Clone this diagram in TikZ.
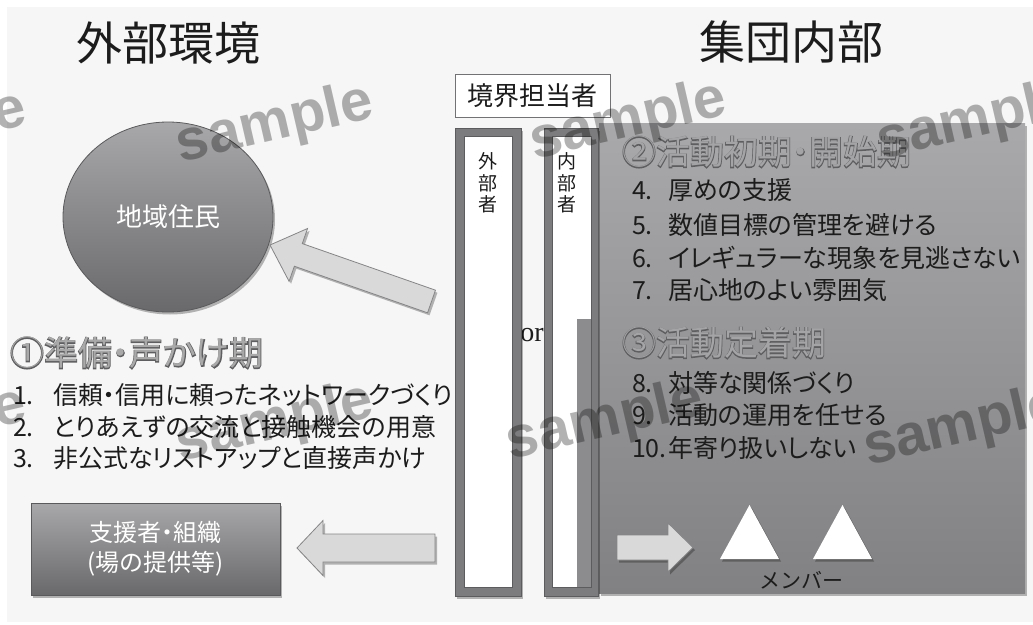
\documentclass[tikz,border=0pt]{standalone}
\usepackage{fontspec}
\setmainfont{Noto Sans CJK JP}
\newfontfamily\jp{Noto Sans CJK JP}
\newfontfamily\jpp{Noto Sans CJK JP}[RawFeature=+palt]
\newfontfamily\jpout{Noto Sans CJK JP}[RawFeature=+palt, FakeBold=4]
\newfontfamily\serifL{Liberation Serif}
\newfontfamily\wmfont{Liberation Sans}
\usetikzlibrary{shapes.geometric,shadows,calc}

\definecolor{bgpanel}{HTML}{F6F6F6}
\definecolor{arrowfill}{HTML}{D9D9DA}
\definecolor{arrowline}{HTML}{858587}
\definecolor{grptop}{HTML}{A9A9AB}
\definecolor{grpbot}{HTML}{818183}
\definecolor{darktop}{HTML}{A8A8AA}
\definecolor{darkbot}{HTML}{69696B}
\definecolor{darkline}{HTML}{5A5A5C}
\definecolor{barfill}{HTML}{7C7C7E}
\definecolor{barline}{HTML}{5C5C5E}
\definecolor{barshade}{HTML}{8C8C8E}
\definecolor{headedge}{HTML}{5E5E60}
\definecolor{headfillA}{HTML}{A9A9A9}
\definecolor{headfillB}{HTML}{A4A4A6}
\definecolor{textdark}{HTML}{1C1C1C}
\definecolor{boxline}{HTML}{727274}

\newcommand{\blockarr}[5]{%
  \coordinate (hb) at ($(#2)!#5!(#1)$);
  \coordinate (h1) at ($(hb)!#4!90:(#2)$);
  \coordinate (h2) at ($(hb)!#4!-90:(#2)$);
  \coordinate (s1) at ($(hb)!#3!90:(#2)$);
  \coordinate (s2) at ($(hb)!#3!-90:(#2)$);
  \coordinate (t1) at ($(#1)!#3!90:(#2)$);
  \coordinate (t2) at ($(#1)!#3!-90:(#2)$);
  \draw[blockarrow] (#2) -- (h1) -- (s1) -- (t1) -- (t2) -- (s2) -- (h2) -- cycle;
}

\tikzset{
  plain/.style={inner sep=0pt, outer sep=0pt},
  softshadow/.style={drop shadow={shadow xshift=2pt, shadow yshift=-2.5pt, opacity=0.28, fill=black}},
  title/.style={plain, font=\jp\fontsize{46pt}{50pt}\selectfont, text=textdark},
  itemL/.style={plain, anchor=west, font=\jpp\fontsize{25pt}{28pt}\selectfont, text=textdark},
  headout/.style={plain, anchor=west, font=\jpout\fontsize{34pt}{36pt}\selectfont, text=headedge},
  headin/.style={plain, anchor=west, font=\jpp\fontsize{34pt}{36pt}\selectfont},
  blockarrow/.style={fill=arrowfill, draw=arrowline, line width=0.8pt, line join=miter, softshadow},
  barouter/.style={plain, anchor=north west, draw=barline, line width=0.8pt, fill=barfill, minimum width=#1, softshadow},
  barinner/.style={plain, anchor=north west, draw=barline, line width=0.8pt, fill=white, minimum width=#1},
  vtext/.style={plain, anchor=north, align=center, font=\jp\fontsize{19pt}{21.5pt}\selectfont, text=textdark},
  wm/.style={plain, font=\wmfont\bfseries\fontsize{58pt}{60pt}\selectfont, text=black, text opacity=0.3},
}

\begin{document}
\begin{tikzpicture}[x=1pt,y=-1pt]
\useasboundingbox (0,0) rectangle (1033,624);
\fill[white] (0,0) rectangle (1033,624);
\fill[bgpanel] (7,7) rectangle (1033,622);

% titles
\node[title] (ttl1) at (168,43) {外部環境};
\node[title] (ttl2) at (791,42) {集団内部};

% group panel
\node[plain, anchor=north west, top color=grptop, bottom color=grpbot, minimum width=426pt, minimum height=470pt, softshadow] (grp) at (599,123) {};

% or
\node[plain, font=\serifL\fontsize{28pt}{30pt}\selectfont, text=textdark] (ortxt) at (532,335) {or};

% bars
\node[barouter=66pt, minimum height=468pt] (bar1) at (455,128) {};
\node[barinner=48pt, minimum height=451pt] (bar1in) at (464,136) {};
\node[barouter=54pt, minimum height=468pt] (bar2) at (544,128) {};
\node[barinner=39pt, minimum height=451pt] (bar2in) at (552,136) {};
\node[plain, anchor=north west, fill=barshade, minimum width=14pt, minimum height=268pt] (bar2sh) at (577,318.5) {};
\node[vtext] (v1) at (488,153) {外\\部\\者};
\node[vtext] (v2) at (567,153) {内\\部\\者};

% boundary box
\node[plain, anchor=north west, draw=boxline, line width=0.9pt, fill=white, minimum width=155pt, minimum height=43pt] (bnd) at (455,74) {};
\node[plain, font=\jp\fontsize{26pt}{28pt}\selectfont, text=textdark] (bndt) at (bnd.center) {境界担当者};

% residents ellipse
\node[ellipse, draw=darkline, line width=0.8pt, top color=darktop, bottom color=darkbot, minimum width=210pt, minimum height=190pt, inner sep=0pt, softshadow, font=\jp\fontsize{26pt}{28pt}\selectfont, text=white] (ell) at (168,217) {地域住民};

% supporter box
\node[plain, draw=darkline, line width=0.8pt, top color=darktop, bottom color=darkbot, minimum width=249pt, minimum height=92pt, softshadow, align=center, font=\jpp\fontsize{24pt}{30pt}\selectfont, text=white] (sup) at (155.5,549) {支援者・組織\\(場の提供等)};

% block arrows
\coordinate (a1tail) at (431.5,301.5);
\coordinate (a1tip) at (270,245);
\blockarr{a1tail}{a1tip}{12pt}{28pt}{30pt}
\coordinate (a2tail) at (435,548);
\coordinate (a2tip) at (297,548);
\blockarr{a2tail}{a2tip}{14pt}{27.5pt}{26pt}
\coordinate (a3tail) at (617,547.5);
\coordinate (a3tip) at (693,547.5);
\blockarr{a3tail}{a3tip}{12.5pt}{24.5pt}{25pt}

% members
\fill[white, softshadow] (720,559) -- (749.5,505) -- (779,559) -- cycle;
\fill[white, softshadow] (813,559) -- (842.5,505) -- (872,559) -- cycle;
\node[plain, font=\jp\fontsize{21pt}{23pt}\selectfont, text=textdark] (mem) at (801,580) {メンバー};

% phase 1
\node[headout] (h1o) at (10,353) {①準備・声かけ期};
\node[headin, text=headfillA] (h1) at (10,353) {①準備・声かけ期};
\node[itemL] (i1) at (13,395) {\makebox[40pt][l]{1.}信頼・信用に頼ったネットワークづくり};
\node[itemL] (i2) at (13,427) {\makebox[40pt][l]{2.}とりあえずの交流と接触機会の用意};
\node[itemL] (i3) at (13,458) {\makebox[40pt][l]{3.}非公式なリストアップと直接声かけ};

% phase 2
\node[headout] (h2o) at (622,152) {②活動初期・開始期};
\node[headin, text=headfillB] (h2) at (622,152) {②活動初期・開始期};
\node[itemL] (i4) at (632,190) {\makebox[36pt][l]{4.}厚めの支援};
\node[itemL] (i5) at (632,225) {\makebox[36pt][l]{5.}数値目標の管理を避ける};
\node[itemL] (i6) at (632,258) {\makebox[36pt][l]{6.}イレギュラーな現象を見逃さない};
\node[itemL] (i7) at (632,290) {\makebox[36pt][l]{7.}居心地のよい雰囲気};

% phase 3
\node[headout] (h3o) at (622,343) {③活動定着期};
\node[headin, text=headfillB] (h3) at (622,343) {③活動定着期};
\node[itemL] (i8) at (632,383) {\makebox[36pt][l]{8.}対等な関係づくり};
\node[itemL] (i9) at (632,415) {\makebox[36pt][l]{9.}活動の運用を任せる};
\node[itemL] (i10) at (632,448) {\makebox[36pt][l]{10.}年寄り扱いしない};

% watermarks
\begin{scope}
\clip (0,0) rectangle (1033,624);
\foreach \wx/\wy [count=\wi] in {-72/132, 275/125, 628/122, 975/122, -72/428, 275/424, 605/422, 962/428}{
  \node[wm, rotate=13] (wm\wi) at (\wx,\wy) {sample};
}
\end{scope}
\end{tikzpicture}
\end{document}
